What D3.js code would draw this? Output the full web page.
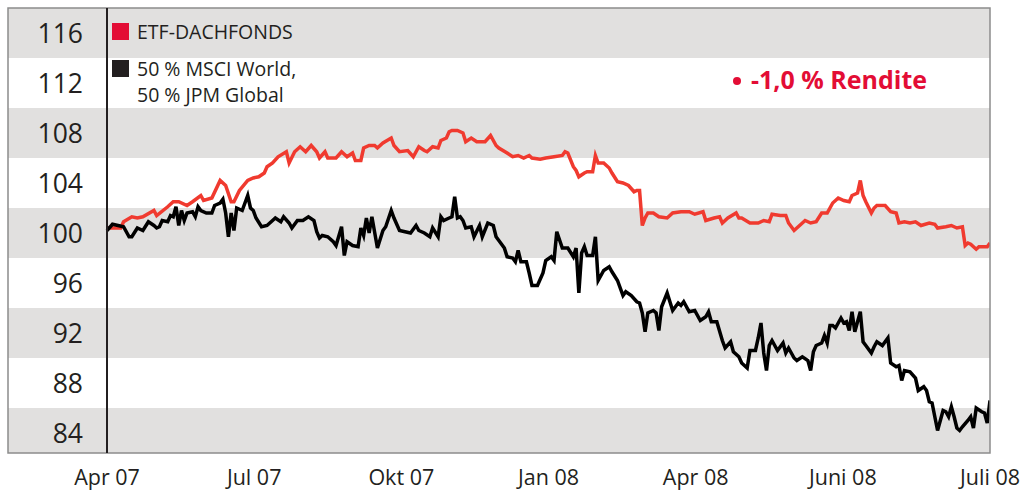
<!DOCTYPE html>
<html>
<head>
<meta charset="utf-8">
<script src="https://cdn.jsdelivr.net/npm/d3@7"></script>
<style>
  body { margin: 0; background: #fff; }
  text { font-family: "Open Sans", "Noto Sans", sans-serif; fill: #231f20; }
</style>
</head>
<body>
<svg id="viz"></svg>
<script>
var width = 1024;
var height = 493;

// tick labels
var yTicks = [116, 112, 108, 104, 100, 96, 92, 88, 84];
var xLabels = ["Apr 07", "Jul 07", "Okt 07", "Jan 08", "Apr 08", "Juni 08", "Juli 08"];

// series: trading day index (0..320) and index value
var etfDays = [0,5,6,9,11,13,17,18,22,24,26,29,31,34,35,38,41,43,45,46,48,51,53,55,57,58,60,62,65,66,68,70,72,74,76,77,79,80,83,85,87,89,90,92,93,95,97,98,100,103,104,106,109,111,113,115,116,118,120,121,123,124,125,127,129,130,132,134,137,139,141,142,145,147,149,151,153,154,157,159,162,165,166,167,169,170,171,173,174,176,177,178,180,182,183,185,187,189,191,192,193,194,195,196,198,200,203,205,208,211,213,216,217,220,222,223,225,228,229,230,233,236,238,240,241,244,246,247,249,251,253,255,257,259,261,263,265,267,269,270,272,273,274,275,277,278,279,282,284,286,287,289,291,293,295,298,300,301,304,306,308,310,311,312,313,315,316,319,320];
var etfValues = [100.4,100.4,100.9,101.3,101.2,101.3,101.8,101.4,102.1,102.5,102.5,102.2,102.5,103.0,102.6,102.8,104.2,103.8,102.5,102.5,103.4,104.2,104.4,104.5,104.8,105.3,105.6,106.1,106.5,105.6,106.5,106.9,106.5,107.0,106.5,106.0,106.5,106.0,106.0,106.5,106.1,106.4,105.8,105.8,106.8,107.0,107.0,106.8,107.2,107.6,107.0,106.5,106.6,106.1,106.9,106.6,106.5,106.9,106.8,107.4,107.6,108.1,108.2,108.2,108.0,107.3,107.6,107.3,107.3,107.8,107.0,106.8,106.4,106.1,106.2,106.0,106.2,106.0,105.9,106.0,106.1,106.2,106.5,106.4,105.3,105.0,104.5,104.8,104.9,104.9,106.2,105.6,105.6,105.2,104.8,104.1,104.0,103.8,103.3,103.4,103.4,100.6,101.2,101.6,101.6,101.3,101.2,101.6,101.7,101.7,101.5,101.7,101.0,101.2,101.3,100.8,101.2,101.6,101.2,101.2,100.8,100.8,101.0,100.9,101.5,101.4,101.4,100.8,100.2,100.6,101.0,100.8,100.9,101.6,101.6,102.4,102.8,102.6,102.5,103.0,103.2,104.2,103.0,102.5,101.6,102.0,102.2,102.2,101.7,101.6,100.8,100.9,100.8,100.9,100.6,100.8,100.7,100.4,100.5,100.6,100.4,100.5,99.0,99.2,99.1,98.7,98.9,98.9,99.2];

var benchDays = [0,2,4,6,8,9,11,13,15,17,18,19,20,22,23,24,25,26,27,28,29,31,32,33,34,36,38,39,41,42,43,44,45,46,47,49,51,52,53,54,56,58,60,61,63,64,66,67,69,71,73,75,76,77,78,80,82,83,85,86,87,89,91,92,93,94,95,96,98,100,101,103,104,106,108,110,112,113,115,117,118,120,121,122,124,125,126,127,128,129,130,132,133,135,136,138,140,141,142,144,145,147,148,149,150,152,153,154,156,158,159,161,162,163,165,167,169,170,171,172,173,174,176,177,178,180,182,183,185,187,188,190,192,193,194,195,196,198,199,200,201,203,205,207,208,209,211,213,215,217,218,219,221,223,224,226,227,229,230,232,233,235,236,237,238,239,240,241,243,245,246,247,249,250,252,254,255,256,257,259,260,261,262,263,264,266,267,268,269,270,271,272,273,274,275,277,278,279,281,283,284,286,287,288,289,291,293,294,296,297,298,299,301,303,304,305,306,307,308,309,310,312,313,314,315,317,318,319,320];
var benchValues = [100.2,100.7,100.6,100.5,99.7,99.7,100.4,100.2,100.9,100.6,100.4,100.5,101.0,100.9,101.4,101.3,102.1,100.6,101.8,101.0,101.6,101.7,101.3,102.1,101.8,101.6,101.6,102.2,102.4,102.7,101.6,99.7,101.6,100.2,102.0,101.8,103.0,102.0,101.8,101.2,100.5,100.6,101.0,101.2,100.9,101.3,100.8,100.4,101.0,101.0,101.3,101.0,100.1,99.6,99.8,99.7,99.3,99.0,100.5,98.2,99.3,99.0,98.9,100.4,99.8,101.2,100.0,101.3,98.8,100.2,100.5,101.8,101.2,100.2,100.1,100.0,100.6,100.2,100.0,99.7,100.4,99.7,101.3,101.0,101.2,101.3,102.9,101.2,101.3,101.0,100.4,100.5,99.7,100.6,99.7,100.8,100.6,99.7,99.4,98.8,98.1,98.0,97.7,98.6,97.7,97.7,96.8,95.8,95.8,96.8,97.8,98.1,97.8,100.1,98.8,98.8,98.1,98.8,95.2,98.4,98.9,98.2,98.2,99.7,96.2,97.0,97.3,96.9,96.2,95.0,95.3,95.0,94.5,94.4,93.6,92.1,93.6,93.8,93.6,92.2,94.1,95.2,93.8,94.4,94.2,94.5,93.7,93.8,93.0,93.3,93.7,92.9,92.9,91.4,90.8,91.3,90.5,90.1,89.6,89.2,90.6,90.6,91.6,92.8,90.4,89.0,91.0,91.4,90.6,91.2,90.4,90.8,90.0,89.8,90.1,89.8,89.0,90.5,91.0,91.2,91.8,91.2,92.6,92.6,92.4,93.2,92.8,92.9,92.2,93.7,92.1,92.9,93.7,91.3,91.0,90.4,90.9,91.3,91.0,91.6,89.6,89.3,89.4,88.2,89.0,88.9,88.4,87.4,87.7,87.4,86.5,86.4,84.2,85.8,85.7,85.3,86.1,85.3,84.4,84.2,84.5,85.0,85.3,84.4,86.0,85.7,85.6,84.8,86.6];

var legendLabels = [["ETF-DACHFONDS"], ["50 % MSCI World,", "50 % JPM Global"]];
var legendColors = ["#e30d35", "#231f20"];
var returnLabel = "-1,0 % Rendite";

var frame = {left: 8, right: 990, top: 8, bottom: 453};
var axisX = 107;

var svg = d3.select("#viz").attr("width", width).attr("height", height);

var x = d3.scaleLinear().domain([0, 320]).range([axisX, frame.right]);
var y = d3.scaleLinear().domain([84, 116]).range([433, 33]);
var xLab = d3.scalePoint().domain(xLabels).range([axisX, frame.right]);

svg.append("clipPath").attr("id", "frameclip")
    .append("rect")
    .attr("x", frame.left).attr("y", frame.top)
    .attr("width", frame.right - frame.left).attr("height", frame.bottom - frame.top);

// horizontal bands
svg.append("g").attr("clip-path", "url(#frameclip)")
    .selectAll("rect")
    .data(yTicks)
    .enter()
    .append("rect")
    .attr("x", frame.left)
    .attr("width", frame.right - frame.left)
    .attr("y", function(d) { return y(d + 2); })
    .attr("height", function(d) { return y(d - 2) - y(d + 2); })
    .attr("fill", function(d, i) { return i % 2 == 0 ? "#e1e0df" : "#ffffff"; });

// y labels
svg.append("g").selectAll("text")
    .data(yTicks)
    .enter()
    .append("text")
    .attr("x", 83)
    .attr("y", function(d) { return y(d); })
    .attr("dy", "0.36em")
    .attr("text-anchor", "end")
    .style("font-size", "26.5px")
    .text(function(d) { return d; });

// lines
var line = d3.line()
    .x(function(d) { return x(d[0]); })
    .y(function(d) { return y(d[1]); });

var lines = svg.append("g").attr("clip-path", "url(#frameclip)");
lines.append("path")
    .attr("d", line(d3.zip(etfDays, etfValues)))
    .attr("fill", "none")
    .attr("stroke", "#f03a2f")
    .attr("stroke-width", 3.5);
lines.append("path")
    .attr("d", line(d3.zip(benchDays, benchValues)))
    .attr("fill", "none")
    .attr("stroke", "#000")
    .attr("stroke-width", 3.5);

// frame and axis line
svg.append("rect")
    .attr("x", frame.left).attr("y", frame.top)
    .attr("width", frame.right - frame.left).attr("height", frame.bottom - frame.top)
    .attr("fill", "none")
    .attr("stroke", "#8c8c8c")
    .attr("stroke-width", 1.5);
svg.append("line")
    .attr("x1", axisX).attr("x2", axisX)
    .attr("y1", frame.top).attr("y2", frame.bottom)
    .attr("stroke", "#231f20")
    .attr("stroke-width", 2);

// x labels
svg.append("g").selectAll("text")
    .data(xLabels)
    .enter()
    .append("text")
    .attr("x", function(d) { return xLab(d); })
    .attr("y", 485)
    .attr("text-anchor", "middle")
    .style("font-size", "21.5px")
    .text(function(d) { return d; });

// legend
var legend = svg.append("g");
legendLabels.forEach(function(lines, i) {
    var top = 23 + i * 37;
    legend.append("rect")
        .attr("x", 112).attr("y", top)
        .attr("width", 17).attr("height", 17)
        .attr("fill", legendColors[i]);
    lines.forEach(function(t, j) {
        legend.append("text")
            .attr("x", 137)
            .attr("y", top + 16 + j * 26)
            .style("font-size", "19.5px")
            .text(t);
    });
});

// return annotation
svg.append("circle")
    .attr("cx", 737).attr("cy", 81).attr("r", 4)
    .attr("fill", "#e30d35");
svg.append("text")
    .attr("x", 751).attr("y", 89)
    .style("font-size", "25px")
    .style("font-weight", "bold")
    .style("fill", "#e30d35")
    .text(returnLabel);
</script>
</body>
</html>
